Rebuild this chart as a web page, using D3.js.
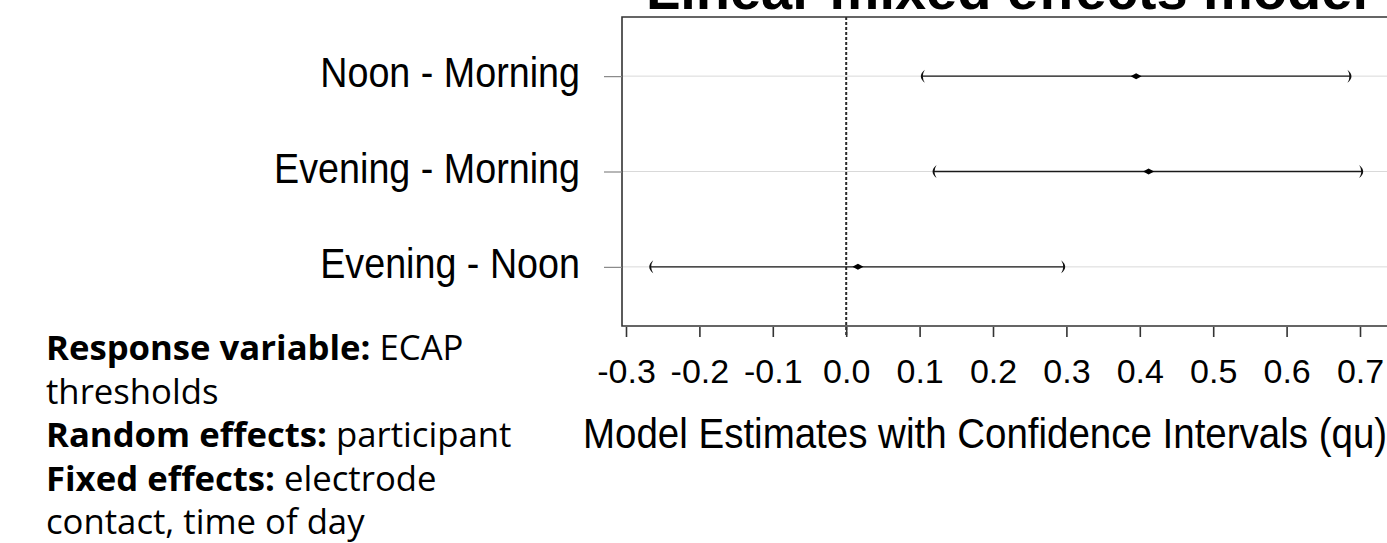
<!DOCTYPE html>
<html>
<head>
<meta charset="utf-8">
<script src="https://cdn.jsdelivr.net/npm/d3@7"></script>
<style>
  html, body { margin: 0; padding: 0; background: #fff; }
  svg { display: block; }
</style>
</head>
<body>
<svg id="chart" width="1387" height="543"></svg>
<script>
// Pairwise contrasts between times of day (bottom row first)
const categories = ["Evening - Noon", "Evening - Morning", "Noon - Morning"];
const estimates  = [0.016, 0.412, 0.395];
const lowerCI    = [-0.267, 0.119, 0.103];
const upperCI    = [0.297, 0.703, 0.687];
const xTicks     = [-0.3, -0.2, -0.1, 0.0, 0.1, 0.2, 0.3, 0.4, 0.5, 0.6, 0.7];

const titleText  = "Linear mixed effects model";
const xTitleText = "Model Estimates with Confidence Intervals (qu)";
const noteLines = [
  [["Response variable: ", true], ["ECAP", false]],
  [["thresholds", false]],
  [["Random effects: ", true], ["participant", false]],
  [["Fixed effects: ", true], ["electrode", false]],
  [["contact, time of day", false]]
];

const svg = d3.select("#chart");
const W = 1387, H = 543;
const panel = { left: 622, top: 17, right: 1392, bottom: 326 };

svg.append("rect").attr("width", W).attr("height", H).attr("fill", "#fff");

const x = d3.scaleLinear().domain([-0.3, 0.7]).range([626, 1360]);
const y = d3.scaleLinear().domain([0.38, 3.62]).range([panel.bottom, panel.top]);
const rows = categories.map((c, i) => ({
  cat: c, pos: i + 1, est: estimates[i], lo: lowerCI[i], hi: upperCI[i]
}));

// Title (runs off the top edge)
svg.append("text")
  .attr("x", (panel.left + panel.right) / 2)
  .attr("y", 9)
  .attr("text-anchor", "middle")
  .attr("font-family", "Liberation Sans, Arial, sans-serif")
  .attr("font-weight", "bold")
  .attr("font-size", 56)
  .attr("fill", "#000")
  .text(titleText);

// Horizontal guide lines at each contrast
svg.append("g").selectAll("line").data(rows).join("line")
  .attr("x1", panel.left).attr("x2", W)
  .attr("y1", d => y(d.pos)).attr("y2", d => y(d.pos))
  .attr("stroke", "#d9d9d9").attr("stroke-width", 1);

// Reference line at zero
svg.append("line")
  .attr("x1", x(0)).attr("x2", x(0))
  .attr("y1", panel.top).attr("y2", panel.bottom + 10)
  .attr("stroke", "#2a2a2a").attr("stroke-width", 2)
  .attr("stroke-dasharray", "3,2");

// Panel frame (left, top, bottom)
svg.append("path")
  .attr("d", `M${W + 5},${panel.top}H${panel.left}V${panel.bottom}H${W + 5}`)
  .attr("fill", "none").attr("stroke", "#333").attr("stroke-width", 1.6);

// X axis
const xAxis = svg.append("g")
  .attr("transform", `translate(0,${panel.bottom + 1})`)
  .call(d3.axisBottom(x).tickValues(xTicks).tickSize(10).tickSizeOuter(0)
    .tickFormat(d3.format(".1f")));
xAxis.select(".domain").remove();
xAxis.selectAll(".tick line").attr("stroke", "#333").attr("stroke-width", 1.6);
xAxis.selectAll(".tick text")
  .attr("y", 0).attr("dy", 0)
  .attr("transform", "translate(0,56)")
  .attr("font-family", "Liberation Sans, Arial, sans-serif")
  .attr("font-size", 34).attr("fill", "#000")
  .text(d => d3.format(".1f")(d).replace("−", "-"));

// Y axis (category labels)
const yAxis = svg.append("g")
  .attr("transform", `translate(${panel.left},0)`)
  .call(d3.axisLeft(y).tickValues(rows.map(r => r.pos)).tickSize(18).tickSizeOuter(0)
    .tickFormat((d, i) => rows[i].cat));
yAxis.select(".domain").remove();
yAxis.selectAll(".tick line").attr("stroke", "#888").attr("stroke-width", 1.2);
yAxis.selectAll(".tick text")
  .attr("x", 0).attr("dy", 0)
  .attr("transform", "translate(-42,10.5) scale(1,1.12)")
  .attr("text-anchor", "end")
  .attr("font-family", "Liberation Sans, Arial, sans-serif")
  .attr("font-size", 37.7).attr("fill", "#000");

// Confidence intervals
const marks = svg.append("g");
marks.selectAll("line.ci").data(rows).join("line")
  .attr("class", "ci")
  .attr("x1", d => x(d.lo)).attr("x2", d => x(d.hi))
  .attr("y1", d => y(d.pos)).attr("y2", d => y(d.pos))
  .attr("stroke", "#1a1a1a").attr("stroke-width", 1.3);

// Parenthesis-shaped interval ends: dir = 1 opens right, -1 opens left
const capPath = (cx, cy, dir) => {
  const h = 6.5;
  const tip = cx + 3 * dir, outer = cx - 5 * dir, inner = cx - 1 * dir;
  return `M${tip},${cy - h}Q${outer},${cy} ${tip},${cy + h}` +
         `Q${inner},${cy} ${tip},${cy - h}Z`;
};
marks.selectAll("path.lo").data(rows).join("path")
  .attr("class", "lo")
  .attr("d", d => capPath(x(d.lo), y(d.pos), 1))
  .attr("fill", "#111");
marks.selectAll("path.hi").data(rows).join("path")
  .attr("class", "hi")
  .attr("d", d => capPath(x(d.hi), y(d.pos), -1))
  .attr("fill", "#111");

// Point estimates
marks.selectAll("path.est").data(rows).join("path")
  .attr("class", "est")
  .attr("d", d => {
    const cx = x(d.est), cy = y(d.pos);
    return `M${cx - 5.5},${cy}L${cx},${cy - 3}L${cx + 5.5},${cy}L${cx},${cy + 3}Z`;
  })
  .attr("fill", "#000");

// X axis title
svg.append("text")
  .attr("x", 583).attr("y", 0)
  .attr("transform", "translate(0,448) scale(1,1.08)")
  .attr("font-family", "Liberation Sans, Arial, sans-serif")
  .attr("font-size", 38.5).attr("fill", "#000")
  .text(xTitleText);

// Model description
const note = svg.append("text")
  .attr("font-family", "'Open Sans', 'Noto Sans', sans-serif")
  .attr("font-size", 34.7).attr("fill", "#000");
noteLines.forEach((parts, i) => {
  parts.forEach(([txt, bold], j) => {
    const ts = note.append("tspan").attr("font-weight", bold ? "bold" : "normal").text(txt);
    if (j === 0) ts.attr("x", 46).attr("y", 360 + i * 43.5);
  });
});
</script>
</body>
</html>
